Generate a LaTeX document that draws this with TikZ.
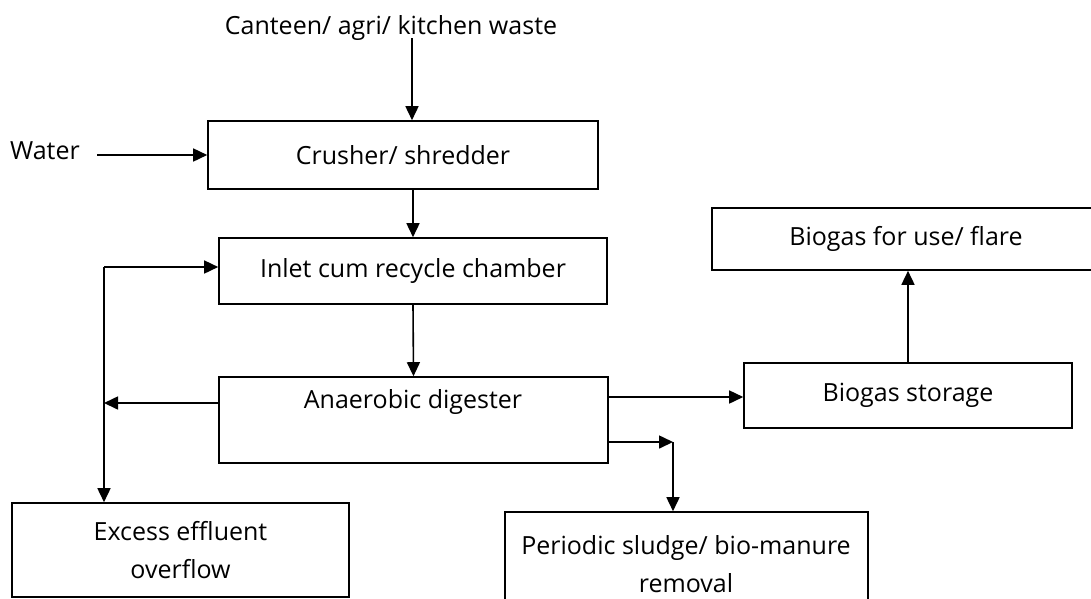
\documentclass[tikz,border=0pt]{standalone}
\usepackage{fontspec}
\setmainfont{Open Sans}
\usetikzlibrary{arrows.meta}
\begin{document}
\begin{tikzpicture}[x=1pt,y=-1pt,
  box/.style={draw, line width=1.6pt, inner sep=0pt, align=center},
  lbl/.style={inner sep=0pt, align=center},
  arr/.style={line width=1.6pt, -{Triangle[length=14pt,width=13pt]}},
  every node/.style={font=\fontsize{25}{38}\selectfont}]
\useasboundingbox (0,0) rectangle (1091,598);
\clip (0,0) rectangle (1091,598);

% process boxes
\node[box, minimum width=390pt, minimum height=68pt] (crush) at (403,155) {Crusher/ shredder};
\node[box, minimum width=388pt, minimum height=66pt] (inlet) at (413,271) {Inlet cum recycle chamber};
\node[box, minimum width=389pt, minimum height=86pt] (dig) at (413.5,420) {};
\node[lbl] (digt) at (413,402) {Anaerobic digester};
\node[box, minimum width=337pt, minimum height=94pt] (excess) at (180.5,550) {Excess effluent\\overflow};
\node[box, minimum width=363pt, minimum height=128pt] (sludge) at (686.5,576) {};
\node[lbl] (sludget) at (686,564) {Periodic sludge/ bio-manure\\removal};
\node[box, minimum width=328pt, minimum height=65pt] (store) at (908,395.5) {Biogas storage};
\node[box, minimum width=388pt, minimum height=62pt] (use) at (906,239) {Biogas for use/ flare};

% inputs
\node[lbl] (waste) at (391,28) {Canteen/ agri/ kitchen waste};
\node[lbl] (water) at (45,151) {Water};
\coordinate (win) at (412,38);
\coordinate (wat) at (97,155);
\draw[arr] (win) -- (win |- crush.north);
\draw[arr] (wat) -- (wat -| crush.west);

% main line
\draw[arr] (413,189) -- (inlet.north);
\draw[arr] (inlet.south) -- (dig.north);

% recycle / overflow loop
\coordinate (ltop) at (104,267);
\draw[arr] (ltop) -- (ltop -| inlet.west);
\draw[arr] (ltop) -- (ltop |- excess.north);
\draw[arr] ([yshift=17pt]dig.west) -- ([yshift=17pt]dig.west -| ltop);

% gas and sludge outlets
\draw[arr] ([yshift=23pt]dig.east) -- ([yshift=23pt]dig.east -| store.west);
\coordinate (sl) at (673,442);
\draw[arr] ([yshift=-22pt]dig.east) -- (sl);
\draw[arr] (sl) -- (sl |- sludge.north);
\draw[arr] (store.north) -- (store.north |- use.south);
\end{tikzpicture}
\end{document}
